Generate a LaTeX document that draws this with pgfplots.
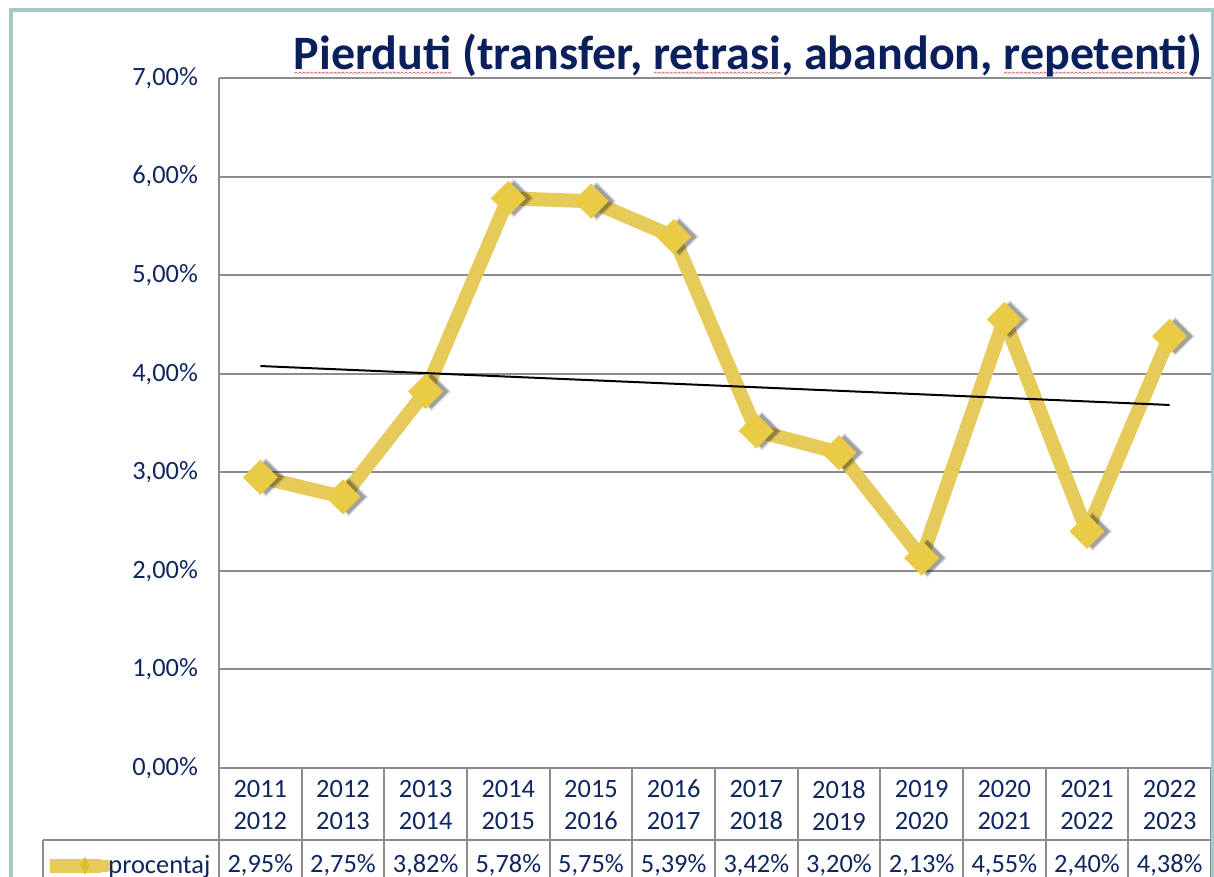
\documentclass[border=0pt]{standalone}
\usepackage{pgfplots}
\pgfplotsset{compat=1.18}
\usepackage{fontspec}
\setmainfont{Carlito}
\definecolor{navy}{HTML}{0F2660}
\definecolor{titlenavy}{HTML}{0B1F5C}
\definecolor{lineyellow}{HTML}{E6CB5A}
\definecolor{markyellow}{HTML}{E9CB45}
\definecolor{legmark}{HTML}{DDBD30}
\definecolor{gridgray}{HTML}{8C8C8C}
\definecolor{frameteal}{HTML}{A6C8C6}
\definecolor{spellred}{HTML}{E06060}
\newsavebox\wavebox
\sbox\wavebox{\tikz[baseline=0pt]{\path (0,-0.5pt) rectangle (1.6pt,0.5pt); \draw[spellred, line width=0.35pt] (0,-0.35pt) -- (0.8pt,0.35pt) -- (1.6pt,-0.35pt);}}
\newcommand\spellwave[1]{\setbox0\hbox{#1}\rlap{\raisebox{-1.4pt}{\hbox to \wd0{\xleaders\copy\wavebox\hfill}}}\box0}
\newcommand\tabfont{\fontsize{13.2}{16}\selectfont}
\begin{document}
\begin{tikzpicture}
\useasboundingbox (0,0) rectangle (607pt,438.5pt);
\fill[white] (0,0) rectangle (607pt,438.5pt);
\begin{axis}[
  at={(109.5pt,54.5pt)}, anchor=south west,
  scale only axis, width=496pt, height=345pt,
  xmin=0.5, xmax=12.5, ymin=0, ymax=7,
  ytick={0,1,2,3,4,5,6,7},
  xtick={1,2,3,4,5,6,7,8,9,10,11,12},
  xticklabels={{2011\\2012},{2012\\2013},{2013\\2014},{2014\\2015},{2015\\2016},{2016\\2017},{2017\\2018},{2018\\2019},{2019\\2020},{2020\\2021},{2021\\2022},{2022\\2023}},
  xticklabel style={align=center, font=\tabfont, text=navy, yshift=-2.5pt},
  yticklabel={\pgfmathprintnumber[fixed,fixed zerofill,precision=2,use comma]{\tick}\%},
  yticklabel style={font=\tabfont, text=navy, xshift=-7pt},
  /pgf/number format/assume math mode=true,
  major tick length=0pt,
  axis line style={draw=none},
  ymajorgrids, grid style={gridgray, line width=1pt},
  clip=false,
  legend style={at={(axis cs:-1.629,-0.99)}, anchor=west, draw=none, fill=none,
    font=\tabfont, text=navy, inner sep=0pt, nodes={inner xsep=0pt}},
  legend cell align=left,
]
\addplot[lineyellow, line width=7pt, line join=round,
  legend image code/.code={
    \path (0pt,0pt) -- (25.5pt,0pt);
    \draw[overlay, draw=lineyellow, line width=6pt, line cap=round] (5pt,0pt) -- (28pt,0pt);
    \fill[overlay, fill=legmark, draw=none] (17.25pt,4.6pt) -- (19.4pt,0pt) -- (17.25pt,-4.6pt) -- (15.1pt,0pt) -- cycle;
  }] coordinates {
  (1,2.95) (2,2.75) (3,3.82) (4,5.78) (5,5.75) (6,5.39)
  (7,3.42) (8,3.20) (9,2.13) (10,4.55) (11,2.40) (12,4.38)};
\addlegendentry{procentaj}
\addplot[forget plot, only marks, mark=square*, mark size=7pt,
  mark options={rotate=45, fill=black, draw=black, draw opacity=0, fill opacity=0.08, xshift=2pt, yshift=-2pt}] coordinates {
  (1,2.95) (2,2.75) (3,3.82) (4,5.78) (5,5.75) (6,5.39)
  (7,3.42) (8,3.20) (9,2.13) (10,4.55) (11,2.40) (12,4.38)};
\addplot[forget plot, only marks, mark=square*, mark size=6.5pt,
  mark options={rotate=45, fill=black, draw=black, draw opacity=0, fill opacity=0.14, xshift=2pt, yshift=-2pt}] coordinates {
  (1,2.95) (2,2.75) (3,3.82) (4,5.78) (5,5.75) (6,5.39)
  (7,3.42) (8,3.20) (9,2.13) (10,4.55) (11,2.40) (12,4.38)};
\addplot[forget plot, only marks, mark=square*, mark size=6.0pt,
  mark options={rotate=45, fill=black, draw=black, draw opacity=0, fill opacity=0.2, xshift=2pt, yshift=-2pt}] coordinates {
  (1,2.95) (2,2.75) (3,3.82) (4,5.78) (5,5.75) (6,5.39)
  (7,3.42) (8,3.20) (9,2.13) (10,4.55) (11,2.40) (12,4.38)};
\addplot[forget plot, only marks, mark=square*, mark size=6.0pt,
  mark options={rotate=45, fill=markyellow, draw=markyellow, line width=0.4pt}] coordinates {
  (1,2.95) (2,2.75) (3,3.82) (4,5.78) (5,5.75) (6,5.39)
  (7,3.42) (8,3.20) (9,2.13) (10,4.55) (11,2.40) (12,4.38)};
\addplot[forget plot, black, line width=1pt] coordinates {(1,4.078) (12,3.683)};
% data table
\draw[gridgray, line width=1pt] (axis cs:0.5,7) -- (axis cs:0.5,-1.2);
\draw[gridgray, line width=1pt] (axis cs:-1.629,-0.7304) -- (axis cs:12.5,-0.7304);
\draw[gridgray, line width=1pt] (axis cs:-1.629,-0.7304) -- (axis cs:-1.629,-1.2);
\pgfplotsinvokeforeach{1.5,2.5,3.5,4.5,5.5,6.5,7.5,8.5,9.5,10.5,11.5,12.5}{
  \draw[gridgray, line width=1pt] (axis cs:#1,0) -- (axis cs:#1,-1.2);
}
\node[font=\tabfont, text=navy] at (axis cs:1,-0.99) {2,95\%};
\node[font=\tabfont, text=navy] at (axis cs:2,-0.99) {2,75\%};
\node[font=\tabfont, text=navy] at (axis cs:3,-0.99) {3,82\%};
\node[font=\tabfont, text=navy] at (axis cs:4,-0.99) {5,78\%};
\node[font=\tabfont, text=navy] at (axis cs:5,-0.99) {5,75\%};
\node[font=\tabfont, text=navy] at (axis cs:6,-0.99) {5,39\%};
\node[font=\tabfont, text=navy] at (axis cs:7,-0.99) {3,42\%};
\node[font=\tabfont, text=navy] at (axis cs:8,-0.99) {3,20\%};
\node[font=\tabfont, text=navy] at (axis cs:9,-0.99) {2,13\%};
\node[font=\tabfont, text=navy] at (axis cs:10,-0.99) {4,55\%};
\node[font=\tabfont, text=navy] at (axis cs:11,-0.99) {2,40\%};
\node[font=\tabfont, text=navy] at (axis cs:12,-0.99) {4,38\%};
\end{axis}
\node[anchor=base east, font=\fontsize{24}{29}\selectfont\bfseries, text=titlenavy, inner sep=0pt]
  at (601.5pt,403.5pt) {\spellwave{Pierduti}\ (transfer, \spellwave{retrasi}, abandon, \spellwave{repetenti})};
\draw[frameteal, line width=2pt] (5.4pt,-10pt) -- (5.4pt,433.25pt) -- (606.5pt,433.25pt) -- (606.5pt,-10pt);
\end{tikzpicture}
\end{document}
